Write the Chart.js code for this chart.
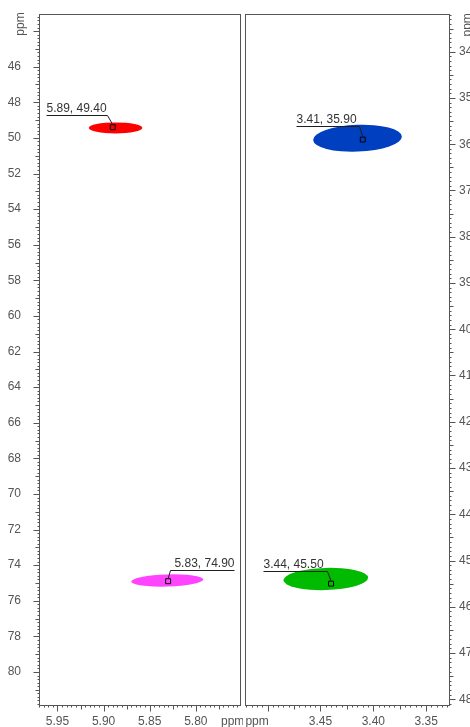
<!DOCTYPE html>
<html>
<head>
<meta charset="utf-8">
<script src="https://cdn.jsdelivr.net/npm/chart.js@4.4.1/dist/chart.umd.min.js"></script>
<style>
    html, body { margin: 0; padding: 0; background: #fff; }
    #wrap { position: relative; width: 470px; height: 727px; overflow: hidden; }
    #strip-left { position: absolute; left: 0; top: 0; }
    #strip-right { position: absolute; left: 243px; top: 0; }
</style>
</head>
<body>
<div id="wrap">
    <canvas id="strip-left" width="243" height="727"></canvas>
    <canvas id="strip-right" width="227" height="727"></canvas>
</div>
<script>
// Cross peaks, 1H (x) against 13C (y), ppm
const leftPeakH = [5.89, 5.83];
const leftPeakC = [49.40, 74.90];
const rightPeakH = [3.41, 3.44];
const rightPeakC = [35.90, 45.50];

// Contour footprint of each peak: centre and half width, ppm
const leftSpotH = [5.887, 5.831];
const leftSpotC = [49.44, 74.86];
const leftSpotHalfH = [0.029, 0.039];
const leftSpotHalfC = [0.31, 0.34];
const rightSpotH = [3.415, 3.445];
const rightSpotC = [35.87, 45.40];
const rightSpotHalfH = [0.042, 0.040];
const rightSpotHalfC = [0.29, 0.24];

// Axis windows and labelled ticks
const leftRangeH = [5.751, 5.970];
const leftRangeC = [43.04, 81.91];
const rightRangeH = [3.3275, 3.5214];
const rightRangeC = [33.185, 48.145];
const leftTicksH = [5.95, 5.90, 5.85, 5.80];
const leftTicksC = [46, 48, 50, 52, 54, 56, 58, 60, 62, 64, 66, 68, 70, 72, 74, 76, 78, 80];
const rightTicksH = [3.45, 3.40, 3.35];
const rightTicksC = [34, 35, 36, 37, 38, 39, 40, 41, 42, 43, 44, 45, 46, 47, 48];

const axisColor = '#555555';
const tickText = '#555555';
const calloutColor = '#1e1e1e';
const fontFamily = "'Liberation Sans', Arial, sans-serif";

Chart.defaults.font.family = fontFamily;
Chart.defaults.font.size = 12;
Chart.defaults.color = tickText;

const fmt = (v) => v.toFixed(2);

function strip(canvasId, p) {
    const canvas = document.getElementById(canvasId);

    // box round the plot area
    const frame = {
        id: 'frame',
        afterDraw(chart) {
            const { ctx, chartArea: a } = chart;
            ctx.save();
            ctx.strokeStyle = axisColor;
            ctx.lineWidth = 1;
            ctx.strokeRect(Math.round(a.left) + 0.5, Math.round(a.top) + 0.5,
                Math.round(a.right - a.left) - 1, Math.round(a.bottom - a.top) - 1);
            ctx.restore();
        },
    };

    // major / mid / minor tick marks on both axes
    const tickMarks = {
        id: 'tickMarks',
        afterDraw(chart) {
            const { ctx, chartArea: a } = chart;
            ctx.save();
            ctx.strokeStyle = axisColor;
            ctx.lineWidth = 1;
            ctx.beginPath();
            const len = (n, t) => (n % t.major === 0 ? 6 : n % t.mid === 0 ? 4 : 2);

            const xs = chart.scales.x;
            const tx = p.xMarks;
            for (let n = Math.ceil(xs.min / tx.step); n * tx.step <= xs.max + 1e-9; n++) {
                const px = Math.round(xs.getPixelForValue(n * tx.step)) + 0.5;
                const y0 = Math.round(a.bottom) - 0.5;
                ctx.moveTo(px, y0);
                ctx.lineTo(px, y0 + len(n, tx));
            }

            const ys = chart.scales.y;
            const ty = p.yMarks;
            const onRight = p.yPosition === 'right';
            for (let n = Math.ceil(ys.min / ty.step); n * ty.step <= ys.max + 1e-9; n++) {
                const py = Math.round(ys.getPixelForValue(n * ty.step)) + 0.5;
                const x0 = onRight ? Math.round(a.right) - 0.5 : Math.round(a.left) + 0.5;
                ctx.moveTo(x0, py);
                ctx.lineTo(onRight ? x0 + len(n, ty) : x0 - len(n, ty), py);
            }
            ctx.stroke();

            // rotated unit on the shift axis
            ctx.fillStyle = tickText;
            ctx.font = `12px ${fontFamily}`;
            ctx.textAlign = 'center';
            ctx.textBaseline = 'middle';
            const ux = onRight ? a.right + p.yUnitGap : a.left - p.yUnitGap;
            ctx.translate(ux, ys.getPixelForValue(p.yUnitAt));
            ctx.rotate(-Math.PI / 2);
            ctx.fillText('ppm', 0, 0);
            ctx.restore();
        },
    };

    // filled contour of each cross peak
    const contours = {
        id: 'contours',
        beforeDatasetsDraw(chart) {
            const { ctx, chartArea: a } = chart;
            const xs = chart.scales.x;
            const ys = chart.scales.y;
            ctx.save();
            ctx.beginPath();
            ctx.rect(a.left, a.top, a.right - a.left, a.bottom - a.top);
            ctx.clip();
            p.spotH.forEach((h, i) => {
                const cx = xs.getPixelForValue(h);
                const cy = ys.getPixelForValue(p.spotC[i]);
                const rx = Math.abs(xs.getPixelForValue(h + p.spotHalfH[i]) - cx);
                const ry = Math.abs(ys.getPixelForValue(p.spotC[i] + p.spotHalfC[i]) - cy);
                ctx.fillStyle = p.colors[i];
                ctx.beginPath();
                ctx.ellipse(cx, cy, rx, ry, p.tilt[i], 0, Math.PI * 2);
                ctx.fill();
            });
            ctx.restore();
        },
    };

    // leader line and shift label for each peak
    const callouts = {
        id: 'callouts',
        afterDatasetsDraw(chart) {
            const { ctx } = chart;
            const xs = chart.scales.x;
            const ys = chart.scales.y;
            ctx.save();
            ctx.strokeStyle = calloutColor;
            ctx.fillStyle = '#333333';
            ctx.lineWidth = 1;
            ctx.font = `12px ${fontFamily}`;
            ctx.textBaseline = 'alphabetic';
            p.peakH.forEach((h, i) => {
                const c = p.peakC[i];
                const sx = xs.getPixelForValue(h);
                const sy = ys.getPixelForValue(c);
                const o = p.leaders[i];
                const ex = Math.round(sx + o.dx) + 0.5;
                const ey = Math.round(sy + o.dy) + 0.5;
                const endX = ex + o.len;
                ctx.beginPath();
                ctx.moveTo(endX, ey);
                ctx.lineTo(ex, ey);
                ctx.lineTo(sx, sy - 2.5);
                ctx.stroke();
                ctx.textAlign = o.len < 0 ? 'left' : 'right';
                ctx.fillText(`${fmt(h)}, ${fmt(c)}`, endX, ey - 3.5);
            });
            ctx.restore();
        },
    };

    new Chart(canvas, {
        type: 'scatter',
        data: {
            datasets: [
                {
                    data: p.peakH.map((h, i) => ({ x: h, y: p.peakC[i] })),
                    pointStyle: 'rect',
                    pointRadius: 3.5,
                    pointHoverRadius: 3.5,
                    borderColor: '#000000',
                    borderWidth: 1,
                    backgroundColor: 'rgba(0, 0, 0, 0)',
                },
            ],
        },
        options: {
            responsive: false,
            animation: false,
            events: [],
            layout: { padding: p.padding, autoPadding: false },
            plugins: {
                legend: { display: false },
                tooltip: { enabled: false },
            },
            scales: {
                x: {
                    type: 'linear',
                    position: 'bottom',
                    reverse: true,
                    min: p.rangeH[0],
                    max: p.rangeH[1],
                    grid: { display: false, drawTicks: false },
                    border: { display: false },
                    afterBuildTicks(scale) {
                        scale.ticks = p.ticksH.map((v) => ({ value: v }))
                            .concat([{ value: p.xUnitAt }]);
                    },
                    afterFit(scale) {
                        scale.height = 21;
                        scale.paddingLeft = 0;
                        scale.paddingRight = 0;
                    },
                    ticks: {
                        autoSkip: false,
                        maxRotation: 0,
                        minRotation: 0,
                        padding: 8,
                        color: tickText,
                        callback: (v) => (Math.abs(v - p.xUnitAt) < 1e-9 ? 'ppm' : fmt(v)),
                    },
                },
                y: {
                    type: 'linear',
                    position: p.yPosition,
                    reverse: true,
                    min: p.rangeC[0],
                    max: p.rangeC[1],
                    grid: { display: false, drawTicks: false },
                    border: { display: false },
                    afterBuildTicks(scale) {
                        scale.ticks = p.ticksC.map((v) => ({ value: v }));
                    },
                    afterFit(scale) {
                        scale.width = p.yWidth;
                        scale.paddingTop = 0;
                        scale.paddingBottom = 0;
                    },
                    ticks: {
                        autoSkip: false,
                        padding: p.yPad,
                        color: tickText,
                        callback: (v) => String(v),
                    },
                },
            },
        },
        plugins: [contours, callouts, frame, tickMarks],
    });
}

strip('strip-left', {
    peakH: leftPeakH,
    peakC: leftPeakC,
    spotH: leftSpotH,
    spotC: leftSpotC,
    spotHalfH: leftSpotHalfH,
    spotHalfC: leftSpotHalfC,
    colors: ['#ff0000', '#ff44ff'],
    tilt: [0, -0.03],
    rangeH: leftRangeH,
    rangeC: leftRangeC,
    ticksH: leftTicksH,
    ticksC: leftTicksC,
    xUnitAt: 5.760,
    yUnitAt: 43.6,
    yUnitGap: 18,
    yPosition: 'left',
    yWidth: 39,
    yPad: 18,
    padding: { top: 14, right: 2, left: 0, bottom: 0 },
    xMarks: { step: 0.005, mid: 5, major: 10 },
    yMarks: { step: 0.2, mid: 5, major: 10 },
    leaders: [
        { dx: -5.5, dy: -12.5, len: -61 },
        { dx: 2, dy: -11, len: 64 },
    ],
});

strip('strip-right', {
    peakH: rightPeakH,
    peakC: rightPeakC,
    spotH: rightSpotH,
    spotC: rightSpotC,
    spotHalfH: rightSpotHalfH,
    spotHalfC: rightSpotHalfC,
    colors: ['#0040c0', '#00bb00'],
    tilt: [-0.04, -0.03],
    rangeH: rightRangeH,
    rangeC: rightRangeC,
    ticksH: rightTicksH,
    ticksC: rightTicksC,
    xUnitAt: 3.510,
    yUnitAt: 33.42,
    yUnitGap: 18,
    yPosition: 'right',
    yWidth: 20,
    yPad: 9,
    padding: { top: 14, right: 0, left: 2, bottom: 0 },
    xMarks: { step: 0.005, mid: 5, major: 10 },
    yMarks: { step: 0.1, mid: 5, major: 10 },
    leaders: [
        { dx: -4, dy: -13.5, len: -63 },
        { dx: -4.5, dy: -12.5, len: -64 },
    ],
});
</script>
</body>
</html>
